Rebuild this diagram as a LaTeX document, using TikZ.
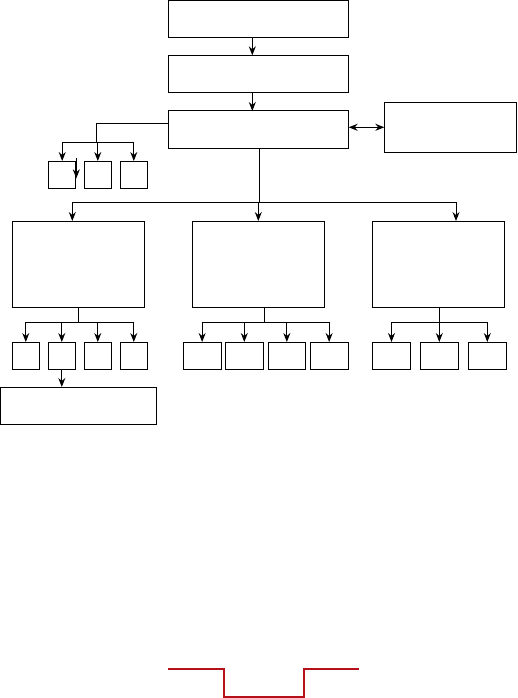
\documentclass[tikz,border=0pt]{standalone}
\usetikzlibrary{arrows.meta}
\definecolor{dred}{RGB}{182,16,26}
\tikzset{
  x=1pt, y=-1pt,
  box/.style={draw, line width=1pt, inner sep=0pt, outer sep=0pt, anchor=north west},
  ln/.style={line width=1pt},
  arr/.style={ln, -{Stealth[length=9pt,width=7pt,inset=3pt]}},
  arrboth/.style={ln, {Stealth[length=9pt,width=7pt,inset=3pt]}-{Stealth[length=9pt,width=7pt,inset=3pt]}},
  redline/.style={draw=dred, line width=2.2pt}
}
\newcommand\bx[5]{\node[box, minimum width={#4-#2}, minimum height={#5-#3}] (#1) at (#2,#3) {};}
\begin{document}
\begin{tikzpicture}
\fill[white] (0,0) rectangle (517,698);
\useasboundingbox (0,0) rectangle (517,698);
% main column
\bx{A}{168.3}{0.8}{348.7}{37.3}
\bx{B}{168.3}{55.3}{348.7}{92.3}
\bx{C}{168.3}{111}{348.7}{148.3}
\bx{D}{384.3}{102.3}{516.5}{152.3}
% left small boxes
\bx{S1}{48.7}{161}{75.7}{188.3}
\bx{S2}{84.3}{161}{111.3}{188.3}
\bx{S3}{120.3}{161}{147.3}{188.3}
% large boxes
\bx{L1}{12.3}{221}{144.3}{307.3}
\bx{L2}{192.3}{221}{324.3}{307.3}
\bx{L3}{372.3}{221}{504.3}{307.3}
% row under L1
\bx{P1}{12.3}{342}{39.3}{369.3}
\bx{P2}{48.3}{342}{75.3}{369.3}
\bx{P3}{84.3}{342}{111.3}{369.3}
\bx{P4}{120.3}{342}{147.3}{369.3}
\bx{E}{0.6}{387}{156.3}{424.3}
% row under L2
\bx{Q1}{183}{342}{221.3}{369.3}
\bx{Q2}{225.3}{342}{263.3}{369.3}
\bx{Q3}{268}{342}{305.7}{369.3}
\bx{Q4}{310}{342}{348.3}{369.3}
% row under L3
\bx{R1}{372.3}{342}{410.7}{369.3}
\bx{R2}{420.3}{342}{458.3}{369.3}
\bx{R3}{468.3}{342}{506.3}{369.3}
% coordinates
\coordinate (ax) at (252.3,0);
\coordinate (j0) at (96.3,123.3);
\coordinate (j1) at (96.3,142.3);
\coordinate (st1) at (76.3,158.3);
\coordinate (st2) at (76.3,178.3);
\coordinate (bus) at (259.3,202.3);
\coordinate (bl) at (72.3,202.3);
\coordinate (br) at (456,202.3);
\coordinate (b1) at (78.7,322);
\coordinate (b2) at (264.3,322);
\coordinate (b3) at (439.3,322);
% connectors top
\draw[arr] (A.south -| ax) -- (B.north -| ax);
\draw[arr] (B.south -| ax) -- (C.north -| ax);
\draw[arrboth] (C.east |- D.west) -- (D.west);
% left branch from C
\draw[ln] (C.west |- j0) -- (j0) -- (j1);
\draw[ln] (S1.north |- j1) -- (S3.north |- j1);
\draw[arr] (S1.north |- j1) -- (S1.north);
\draw[arr] (S2.north |- j1) -- (S2.north);
\draw[arr] (S3.north |- j1) -- (S3.north);
\draw[arr] (st1) -- (st2);
% main bus
\draw[ln] (C.south -| bus) -- (bus);
\draw[ln] (bl) -- (br);
\draw[arr] (bl) -- (L1.north -| bl);
\draw[arr] (bus -| L2.north) -- (L2.north);
\draw[arr] (br) -- (L3.north -| br);
% under L1
\draw[ln] (L1.south -| b1) -- (b1);
\draw[ln] (P1.north |- b1) -- (P4.north |- b1);
\foreach \n in {P1,P2,P3,P4} \draw[arr] (\n.north |- b1) -- (\n.north);
\draw[arr] (P2.south) -- (E.north -| P2.south);
% under L2
\draw[ln] (L2.south -| b2) -- (b2);
\draw[ln] (Q1.north |- b2) -- (Q4.north |- b2);
\foreach \n in {Q1,Q2,Q3,Q4} \draw[arr] (\n.north |- b2) -- (\n.north);
% under L3
\draw[ln] (L3.south -| b3) -- (b3);
\draw[ln] (R1.north |- b3) -- (R3.north |- b3);
\foreach \n in {R1,R2,R3} \draw[arr] (\n.north |- b3) -- (\n.north);
% red line
\draw[redline] (168.3,669) -- (223.7,669) -- (223.7,696.7) -- (304,696.7) -- (304,669) -- (359.3,669);
\end{tikzpicture}
\end{document}
